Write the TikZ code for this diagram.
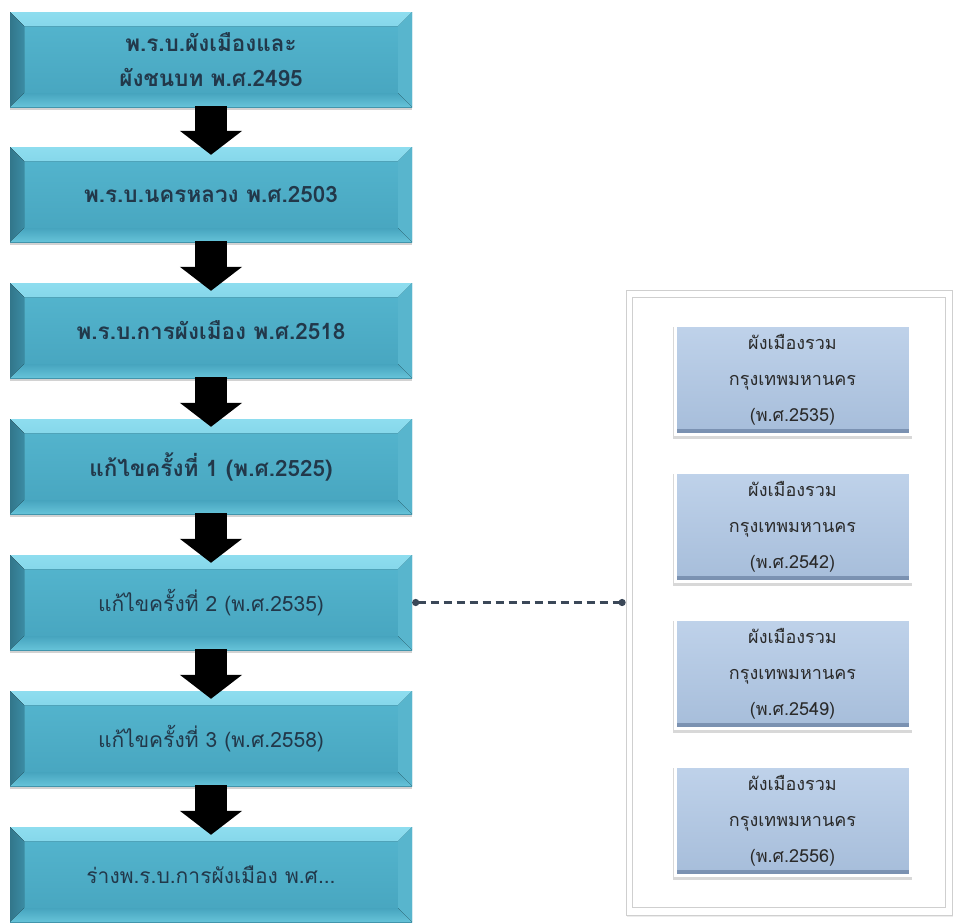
\documentclass[tikz,border=0pt]{standalone}
\usepackage{fontspec}
\newfontfamily\thaifont[Script=Thai]{Loma}
\usetikzlibrary{arrows.meta,shadows,calc}
\definecolor{face}{HTML}{4BACC6}
\definecolor{facetop}{HTML}{55B6CF}
\definecolor{facebot}{HTML}{46A4BE}
\definecolor{bevtop}{HTML}{8EDDEF}
\definecolor{bevleft}{HTML}{3B8BA3}
\definecolor{bevright}{HTML}{58B5CD}
\definecolor{bevbot}{HTML}{66C3D9}
\definecolor{ltxt}{HTML}{22384A}
\definecolor{rtop}{HTML}{BFD2EA}
\definecolor{rbot}{HTML}{A6BDDA}
\definecolor{redge}{HTML}{7990B0}
\definecolor{rtxt}{HTML}{2A2A2A}
\definecolor{dline}{HTML}{3B4858}
\definecolor{frame}{HTML}{CFCFCF}
\tikzset{
  lbox/.style={rectangle, minimum width=402pt, minimum height=95pt, inner sep=0pt,
    top color=facetop, bottom color=facebot, text=ltxt, align=center,
    font={\thaifont\fontsize{21}{35}\selectfont},
    drop shadow={opacity=0.35, shadow xshift=0pt, shadow yshift=-3pt},
    path picture={
      \fill[top color=bevtop, bottom color=facetop]
        (path picture bounding box.north west) -- (path picture bounding box.north east)
        -- ([xshift=-14pt,yshift=-14pt]path picture bounding box.north east)
        -- ([xshift=14pt,yshift=-14pt]path picture bounding box.north west) -- cycle;
      \fill[left color=bevleft!85!black, right color=bevleft]
        (path picture bounding box.north west)
        -- ([xshift=14pt,yshift=-14pt]path picture bounding box.north west)
        -- ([xshift=14pt,yshift=14pt]path picture bounding box.south west)
        -- (path picture bounding box.south west) -- cycle;
      \fill[bevright]
        (path picture bounding box.north east)
        -- ([xshift=-14pt,yshift=-14pt]path picture bounding box.north east)
        -- ([xshift=-14pt,yshift=14pt]path picture bounding box.south east)
        -- (path picture bounding box.south east) -- cycle;
      \fill[top color=facebot, bottom color=bevbot]
        (path picture bounding box.south west)
        -- ([xshift=14pt,yshift=14pt]path picture bounding box.south west)
        -- ([xshift=-14pt,yshift=14pt]path picture bounding box.south east)
        -- (path picture bounding box.south east) -- cycle;
    }},
  bold/.style={font={\thaifont\bfseries\fontsize{22.5}{35}\selectfont}},
  rbox/.style={rectangle, minimum width=235pt, minimum height=109pt, inner sep=0pt,
    top color=rtop, bottom color=rbot, draw=white, line width=3pt, text=rtxt, align=center,
    font={\thaifont\fontsize{18}{36}\selectfont},
    drop shadow={opacity=0.3, shadow xshift=0pt, shadow yshift=-3pt, shadow scale=1.02},
    path picture={
      \fill[top color=rbot, bottom color=redge]
        ([yshift=5pt]path picture bounding box.south west) rectangle (path picture bounding box.south east);
    }},
  panel/.style={rectangle, minimum width=326pt, minimum height=625pt, inner sep=0pt,
    fill=white, draw=frame, line width=0.8pt,
    drop shadow={opacity=0.15, shadow xshift=1pt, shadow yshift=-2pt}},
  blockarrow/.style={line width=32pt, black, -{Triangle[width=61pt,length=24pt]}},
  link/.style={dline, line width=3pt, dash pattern=on 8pt off 5pt,
    {Circle[length=7pt]}-{Circle[length=7pt]}}
}
\begin{document}
\begin{tikzpicture}[x=1pt,y=-1pt]
\useasboundingbox (0,0) rectangle (953,922);
\fill[white] (0,0) rectangle (953,922);

% right panel
\node[panel] (pn) at (789,602.5) {};
\draw[frame, line width=0.8pt] ([xshift=7pt,yshift=-8pt]pn.north west) rectangle ([xshift=-7pt,yshift=8pt]pn.south east);

\node[rbox] (r1) at (792.5,380) {ผังเมืองรวม\\กรุงเทพมหานคร\\(พ.ศ.2535)};
\node[rbox] (r2) at (792.5,527) {ผังเมืองรวม\\กรุงเทพมหานคร\\(พ.ศ.2542)};
\node[rbox] (r3) at (792.5,674) {ผังเมืองรวม\\กรุงเทพมหานคร\\(พ.ศ.2549)};
\node[rbox] (r4) at (792.5,821) {ผังเมืองรวม\\กรุงเทพมหานคร\\(พ.ศ.2556)};

% left column
\node[lbox,bold] (b1) at (211,59.5) {พ.ร.บ.ผังเมืองและ\\ผังชนบท พ.ศ.2495};
\node[lbox,bold] (b2) at (211,194.5) {พ.ร.บ.นครหลวง พ.ศ.2503};
\node[lbox,bold] (b3) at (211,330.5) {พ.ร.บ.การผังเมือง พ.ศ.2518};
\node[lbox,bold] (b4) at (211,466.5) {แก้ไขครั้งที่ 1 (พ.ศ.2525)};
\node[lbox] (b5) at (211,602.5) {แก้ไขครั้งที่ 2 (พ.ศ.2535)};
\node[lbox] (b6) at (211,738.5) {แก้ไขครั้งที่ 3 (พ.ศ.2558)};
\node[lbox] (b7) at (211,874.5) {ร่างพ.ร.บ.การผังเมือง พ.ศ...};

\foreach \a/\b in {b1/b2,b2/b3,b3/b4,b4/b5,b5/b6,b6/b7}
  \draw[blockarrow] ([yshift=1pt]\a.south) -- ([yshift=-8pt]\b.north);

\draw[link] (b5.east) -- (pn.west);
\end{tikzpicture}
\end{document}
